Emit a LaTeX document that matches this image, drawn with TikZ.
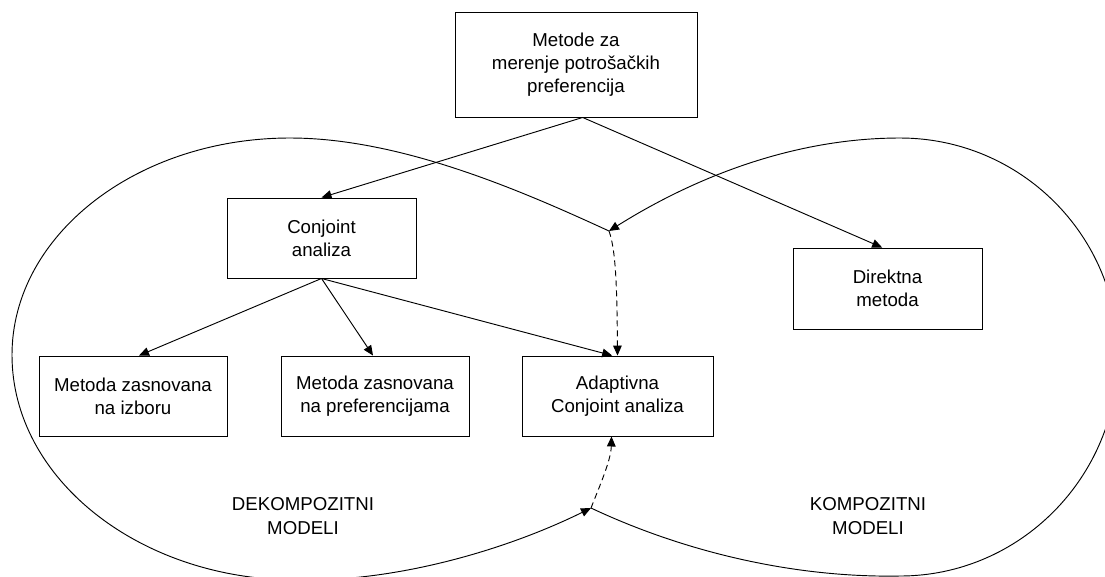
\documentclass[tikz,border=0pt]{standalone}
\usepackage{fontspec}
\setmainfont{Liberation Sans}
\usetikzlibrary{arrows.meta,calc}
\def\pxu{0.75pt}
\begin{document}
\begin{tikzpicture}[x=0.75pt,y=-0.75pt,
  line width=0.7pt,
  box/.style={draw,rectangle,align=center,inner sep=0pt,
    font=\fontsize{14}{17.5}\selectfont},
  lbl/.style={align=center,inner sep=0pt,font=\fontsize{14}{17.5}\selectfont},
  arr/.style={-{Triangle[length=7.5pt,width=6.5pt]}},
  dsh/.style={arr,dash pattern=on 4.5pt off 3pt}]
\useasboundingbox (0,0) rectangle (1105,576);
\clip (0,0) rectangle (1105,576);

% boxes
\node[box,minimum width=242*\pxu,minimum height=105*\pxu] (top) at (576,64.5)
  {Metode za\\merenje potrošačkih\\preferencija};
\node[box,minimum width=189*\pxu,minimum height=80*\pxu] (conj) at (321.5,238)
  {Conjoint\\analiza};
\node[box,minimum width=189*\pxu,minimum height=81*\pxu] (dir) at (887.5,288.5)
  {Direktna\\metoda};
\node[box,minimum width=188*\pxu,minimum height=80*\pxu] (m1) at (133,396)
  {Metoda zasnovana\\na izboru};
\node[box,minimum width=188*\pxu,minimum height=80*\pxu] (m2) at (375,396)
  {Metoda zasnovana\\na preferencijama};
\node[box,minimum width=191*\pxu,minimum height=80*\pxu] (ad) at (617.5,396)
  {Adaptivna\\Conjoint analiza};

% region labels
\node[lbl] (dek) at (303,516) {DEKOMPOZITNI\\MODELI};
\node[lbl] (kom) at (868,516) {KOMPOZITNI\\MODELI};

% meeting points of the two region outlines
\coordinate (xtop) at (609,231);
\coordinate (xbot) at (591,508);

% left region outline
\draw[arr] (xtop) .. controls (520,190) and (400,138) .. (290,138)
  .. controls (137,138) and (12,235) .. (12,355)
  .. controls (12,479) and (140,580) .. (297,580)
  .. controls (400,582) and (510,548) .. (xbot);

% right region outline
\draw[arr] (xbot) .. controls (680,550) and (790,578) .. (900,576)
  .. controls (1020,576) and (1118,477) .. (1118,355)
  .. controls (1118,235) and (1020,138) .. (900,138)
  .. controls (790,138) and (690,180) .. (xtop);

% hierarchy connectors
\draw[arr] ([xshift=5pt]top.south) -- (conj.north);
\draw[arr] ([xshift=5pt]top.south) -- ([xshift=-4pt]dir.north);
\draw[arr] (conj.south) -- ([xshift=4.5pt]m1.north);
\draw[arr] (conj.south) -- ([xshift=-1.5pt]m2.north);
\draw[arr] (conj.south) -- ([xshift=-4pt]ad.north);

% dashed links from the outline crossings
\draw[dsh] (xtop) .. controls (616,250) and (617,290) .. (ad.north);
\draw[dsh] (xbot) .. controls (600,485) and (611,460) .. ([xshift=-4.5pt]ad.south);
\end{tikzpicture}
\end{document}
